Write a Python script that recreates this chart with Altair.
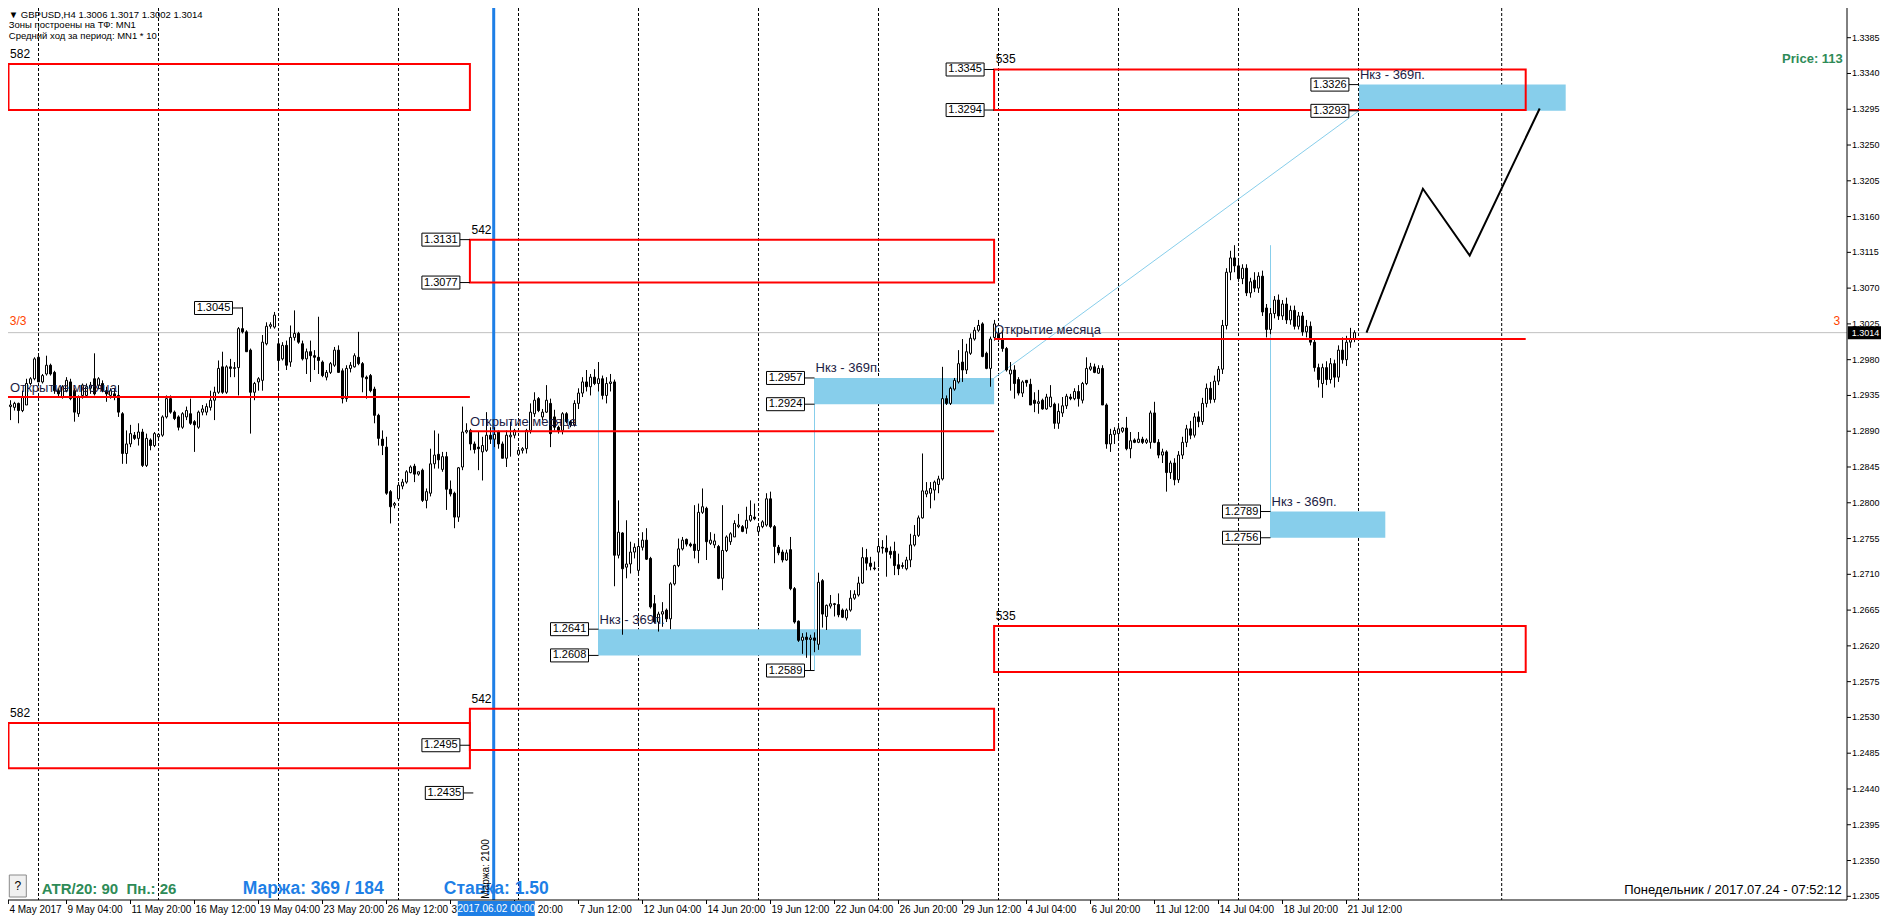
import altair as alt
import pandas as pd

# ---------------------------------------------------------------- data
# GBPUSD H4 candles, bar 0 .. bar 338
OPEN = [
1.2898,1.2900,1.2921,1.2920,1.2925,1.2916,1.2923,1.2950,1.2956,1.2983,
1.2952,1.2962,1.2973,1.2964,1.2941,1.2933,1.2941,1.2952,1.2941,1.2912,
1.2935,1.2935,1.2944,1.2956,1.2948,1.2950,1.2941,1.2935,1.2937,1.2935,
1.2912,1.2862,1.2874,1.2885,1.2881,1.2889,1.2847,1.2879,1.2872,1.2883,
1.2885,1.2908,1.2931,1.2914,1.2908,1.2895,1.2908,1.2912,1.2902,1.2895,
1.2914,1.2914,1.2920,1.2929,1.2939,1.2971,1.2939,1.2971,1.2969,1.2970,
1.3019,1.3015,1.2992,1.2939,1.2952,1.2954,1.3000,1.3022,1.3021,1.3000,
1.2981,1.2998,1.2977,1.3008,1.3013,1.3000,1.2981,1.2990,1.2985,1.2983,
1.2977,1.2958,1.2964,1.2973,1.2992,1.2966,1.2931,1.2969,1.2971,1.2983,
1.2975,1.2958,1.2960,1.2943,1.2910,1.2880,1.2870,1.2814,1.2797,1.2805,
1.2821,1.2826,1.2838,1.2846,1.2836,1.2841,1.2803,1.2812,1.2849,1.2861,
1.2842,1.2858,1.2817,1.2812,1.2782,1.2845,1.2889,1.2891,1.2874,1.2870,
1.2864,1.2866,1.2885,1.2880,1.2889,1.2874,1.2856,1.2883,1.2885,1.2861,
1.2866,1.2868,1.2891,1.2912,1.2931,1.2908,1.2914,1.2925,1.2908,1.2895,
1.2891,1.2912,1.2902,1.2898,1.2925,1.2938,1.2952,1.2946,1.2958,1.2950,
1.2956,1.2935,1.2950,1.2952,1.2734,1.2762,1.2719,1.2723,1.2738,1.2715,
1.2744,1.2753,1.2730,1.2673,1.2650,1.2660,1.2665,1.2654,1.2698,1.2721,
1.2742,1.2754,1.2748,1.2748,1.2740,1.2788,1.2793,1.2749,1.2747,1.2745,
1.2705,1.2740,1.2751,1.2757,1.2770,1.2770,1.2768,1.2778,1.2782,1.2764,
1.2770,1.2772,1.2805,1.2770,1.2744,1.2738,1.2728,1.2741,1.2692,1.2651,
1.2627,1.2631,1.2628,1.2630,1.2622,1.2702,1.2657,1.2670,1.2673,1.2672,
1.2665,1.2655,1.2665,1.2680,1.2684,1.2699,1.2731,1.2724,1.2718,1.2738,
1.2744,1.2743,1.2739,1.2739,1.2722,1.2721,1.2717,1.2728,1.2747,1.2759,
1.2781,1.2811,1.2812,1.2816,1.2823,1.2830,1.2931,1.2925,1.2943,1.2952,
1.2977,1.2967,1.2988,1.3006,1.3017,1.3025,1.2988,1.2969,1.3008,1.3012,
1.3006,1.2994,1.2962,1.2967,1.2955,1.2938,1.2954,1.2949,1.2929,1.2925,
1.2929,1.2918,1.2921,1.2924,1.2900,1.2913,1.2922,1.2933,1.2931,1.2940,
1.2929,1.2950,1.2968,1.2971,1.2963,1.2969,1.2923,1.2874,1.2886,1.2887,
1.2890,1.2894,1.2868,1.2879,1.2876,1.2880,1.2876,1.2876,1.2913,1.2876,
1.2860,1.2864,1.2838,1.2850,1.2829,1.2860,1.2876,1.2893,1.2885,1.2908,
1.2902,1.2925,1.2944,1.2930,1.2953,1.2968,1.3023,1.3090,1.3108,1.3098,
1.3082,1.3095,1.3064,1.3080,1.3070,1.3085,1.3045,1.3018,1.3038,1.3055,
1.3035,1.3050,1.3030,1.3042,1.3022,1.3035,1.3015,1.3022,1.3002,1.2970,
1.2950,1.2970,1.2955,1.2975,1.2958,1.2992,1.2980,1.3002,1.3006]
HIGH = [
1.2900,1.2923,1.2929,1.2927,1.2926,1.2941,1.2956,1.2958,1.2983,1.2988,
1.2962,1.2985,1.2975,1.2966,1.2944,1.2948,1.2958,1.2956,1.2944,1.2935,
1.2950,1.2950,1.2952,1.2988,1.2958,1.2954,1.2946,1.2944,1.2944,1.2948,
1.2914,1.2891,1.2898,1.2889,1.2900,1.2893,1.2887,1.2881,1.2889,1.2887,
1.2910,1.2935,1.2935,1.2916,1.2910,1.2914,1.2921,1.2931,1.2904,1.2916,
1.2923,1.2925,1.2941,1.2946,1.2979,1.2990,1.2973,1.2981,1.2977,1.3021,
1.3046,1.3017,1.2994,1.2952,1.2958,1.3011,1.3027,1.3027,1.3040,1.3004,
1.3002,1.3004,1.3023,1.3042,1.3015,1.3004,1.2994,1.3004,1.2992,1.3034,
1.2979,1.2967,1.2977,1.2996,1.2998,1.2969,1.2973,1.2977,1.2988,1.3015,
1.2977,1.2960,1.2962,1.2946,1.2912,1.2891,1.2883,1.2816,1.2801,1.2826,
1.2830,1.2841,1.2847,1.2849,1.2839,1.2843,1.2818,1.2868,1.2891,1.2887,
1.2864,1.2864,1.2828,1.2814,1.2845,1.2921,1.2900,1.2893,1.2877,1.2889,
1.2883,1.2914,1.2895,1.2895,1.2891,1.2877,1.2891,1.2902,1.2893,1.2870,
1.2870,1.2893,1.2925,1.2939,1.2933,1.2918,1.2948,1.2931,1.2917,1.2897,
1.2914,1.2914,1.2904,1.2929,1.2944,1.2958,1.2967,1.2962,1.2968,1.2977,
1.2960,1.2958,1.2962,1.2955,1.2803,1.2763,1.2778,1.2751,1.2749,1.2753,
1.2763,1.2768,1.2732,1.2684,1.2663,1.2675,1.2667,1.2700,1.2722,1.2755,
1.2757,1.2755,1.2750,1.2797,1.2799,1.2818,1.2795,1.2763,1.2761,1.2747,
1.2797,1.2759,1.2763,1.2778,1.2786,1.2772,1.2795,1.2803,1.2799,1.2772,
1.2778,1.2812,1.2814,1.2772,1.2747,1.2741,1.2741,1.2757,1.2694,1.2652,
1.2636,1.2637,1.2634,1.2637,1.2712,1.2704,1.2672,1.2684,1.2674,1.2686,
1.2667,1.2667,1.2690,1.2690,1.2707,1.2744,1.2742,1.2732,1.2726,1.2755,
1.2753,1.2759,1.2745,1.2751,1.2736,1.2725,1.2732,1.2761,1.2772,1.2784,
1.2862,1.2826,1.2826,1.2828,1.2834,1.2971,1.2935,1.2946,1.2957,1.2992,
1.3006,1.3000,1.3013,1.3021,1.3030,1.3027,1.2990,1.3009,1.3030,1.3019,
1.3017,1.2996,1.2977,1.2973,1.2958,1.2954,1.2954,1.2956,1.2939,1.2942,
1.2931,1.2937,1.2948,1.2926,1.2925,1.2933,1.2937,1.2937,1.2944,1.2948,
1.2952,1.2983,1.2976,1.2975,1.2973,1.2973,1.2925,1.2893,1.2895,1.2900,
1.2895,1.2908,1.2889,1.2881,1.2889,1.2883,1.2881,1.2916,1.2927,1.2880,
1.2868,1.2866,1.2853,1.2856,1.2865,1.2883,1.2898,1.2903,1.2913,1.2915,
1.2932,1.2950,1.2952,1.2960,1.2972,1.3030,1.3095,1.3117,1.3124,1.3105,
1.3100,1.3100,1.3083,1.3090,1.3090,1.3092,1.3050,1.3045,1.3060,1.3062,
1.3055,1.3058,1.3048,1.3048,1.3040,1.3040,1.3030,1.3028,1.3006,1.2975,
1.2975,1.2978,1.2982,1.2980,1.2998,1.3008,1.3010,1.3020,1.3017]
LOW = [
1.2879,1.2898,1.2904,1.2916,1.2900,1.2914,1.2923,1.2948,1.2954,1.2952,
1.2950,1.2960,1.2960,1.2937,1.2933,1.2931,1.2939,1.2929,1.2902,1.2908,
1.2931,1.2933,1.2937,1.2935,1.2944,1.2939,1.2927,1.2931,1.2929,1.2908,
1.2849,1.2849,1.2870,1.2879,1.2872,1.2845,1.2845,1.2866,1.2870,1.2879,
1.2883,1.2906,1.2912,1.2904,1.2891,1.2893,1.2904,1.2898,1.2864,1.2893,
1.2910,1.2910,1.2916,1.2904,1.2937,1.2937,1.2937,1.2958,1.2958,1.2935,
1.3013,1.2990,1.2887,1.2929,1.2941,1.2941,1.2998,1.3019,1.3019,1.2969,
1.2979,1.2967,1.2971,1.3004,1.3000,1.2979,1.2962,1.2952,1.2967,1.2962,
1.2958,1.2954,1.2962,1.2971,1.2964,1.2925,1.2927,1.2964,1.2970,1.2973,
1.2939,1.2931,1.2939,1.2900,1.2872,1.2860,1.2810,1.2774,1.2793,1.2803,
1.2817,1.2824,1.2837,1.2826,1.2834,1.2801,1.2793,1.2808,1.2843,1.2843,
1.2839,1.2791,1.2808,1.2768,1.2776,1.2841,1.2887,1.2866,1.2862,1.2841,
1.2828,1.2864,1.2874,1.2870,1.2868,1.2856,1.2845,1.2858,1.2881,1.2860,
1.2862,1.2862,1.2887,1.2908,1.2914,1.2904,1.2913,1.2870,1.2891,1.2887,
1.2886,1.2900,1.2895,1.2896,1.2918,1.2933,1.2940,1.2935,1.2948,1.2940,
1.2930,1.2925,1.2940,1.2695,1.2730,1.2634,1.2705,1.2711,1.2730,1.2711,
1.2740,1.2728,1.2667,1.2648,1.2638,1.2644,1.2650,1.2641,1.2696,1.2719,
1.2740,1.2745,1.2744,1.2730,1.2724,1.2786,1.2728,1.2747,1.2743,1.2704,
1.2690,1.2738,1.2747,1.2757,1.2768,1.2763,1.2761,1.2776,1.2778,1.2760,
1.2768,1.2770,1.2768,1.2724,1.2734,1.2725,1.2727,1.2690,1.2648,1.2625,
1.2610,1.2605,1.2589,1.2612,1.2615,1.2643,1.2640,1.2667,1.2657,1.2656,
1.2655,1.2652,1.2663,1.2678,1.2682,1.2698,1.2715,1.2715,1.2715,1.2719,
1.2736,1.2707,1.2730,1.2709,1.2709,1.2717,1.2715,1.2719,1.2745,1.2757,
1.2780,1.2807,1.2793,1.2803,1.2812,1.2828,1.2923,1.2923,1.2941,1.2950,
1.2952,1.2962,1.2986,1.3004,1.3015,1.2983,1.2968,1.2946,1.3004,1.3002,
1.2990,1.2965,1.2941,1.2931,1.2935,1.2933,1.2946,1.2923,1.2914,1.2912,
1.2917,1.2917,1.2920,1.2893,1.2893,1.2908,1.2918,1.2929,1.2929,1.2921,
1.2925,1.2948,1.2966,1.2963,1.2962,1.2923,1.2868,1.2864,1.2874,1.2881,
1.2888,1.2866,1.2856,1.2875,1.2875,1.2874,1.2874,1.2868,1.2875,1.2856,
1.2850,1.2814,1.2830,1.2822,1.2825,1.2855,1.2870,1.2880,1.2882,1.2895,
1.2898,1.2920,1.2925,1.2926,1.2948,1.2962,1.3018,1.3080,1.3090,1.3078,
1.3075,1.3060,1.3058,1.3065,1.3064,1.3035,1.3008,1.3012,1.3032,1.3030,
1.3030,1.3025,1.3024,1.3018,1.3018,1.3010,1.3008,1.2998,1.2965,1.2945,
1.2932,1.2948,1.2950,1.2945,1.2952,1.2975,1.2972,1.2995,1.3002]
CLOSE = [
1.2889,1.2921,1.2923,1.2925,1.2916,1.2933,1.2950,1.2956,1.2981,1.2952,
1.2960,1.2973,1.2962,1.2941,1.2937,1.2946,1.2954,1.2931,1.2914,1.2933,
1.2948,1.2946,1.2948,1.2937,1.2956,1.2941,1.2937,1.2941,1.2933,1.2914,
1.2862,1.2874,1.2887,1.2881,1.2889,1.2847,1.2881,1.2872,1.2887,1.2886,
1.2908,1.2931,1.2914,1.2906,1.2895,1.2912,1.2916,1.2900,1.2898,1.2914,
1.2918,1.2921,1.2929,1.2939,1.2969,1.2939,1.2971,1.2969,1.2970,1.3019,
1.3015,1.2990,1.2939,1.2950,1.2956,1.3002,1.3022,1.3024,1.3036,1.2979,
1.2998,1.2973,1.3008,1.3013,1.3002,1.2981,1.2990,1.2985,1.2983,1.2979,
1.2960,1.2964,1.2975,1.2992,1.2964,1.2931,1.2969,1.2973,1.2985,1.2975,
1.2958,1.2956,1.2941,1.2910,1.2881,1.2872,1.2812,1.2795,1.2799,1.2822,
1.2826,1.2839,1.2845,1.2836,1.2839,1.2803,1.2814,1.2849,1.2860,1.2854,
1.2858,1.2817,1.2811,1.2782,1.2844,1.2889,1.2891,1.2874,1.2867,1.2868,
1.2872,1.2885,1.2880,1.2886,1.2874,1.2856,1.2885,1.2885,1.2891,1.2866,
1.2868,1.2891,1.2914,1.2929,1.2916,1.2914,1.2929,1.2887,1.2895,1.2891,
1.2912,1.2902,1.2898,1.2925,1.2938,1.2952,1.2946,1.2958,1.2950,1.2956,
1.2935,1.2950,1.2952,1.2734,1.2763,1.2717,1.2723,1.2738,1.2744,1.2745,
1.2753,1.2729,1.2669,1.2650,1.2660,1.2663,1.2654,1.2698,1.2721,1.2742,
1.2753,1.2748,1.2746,1.2740,1.2788,1.2795,1.2751,1.2753,1.2752,1.2705,
1.2740,1.2757,1.2761,1.2774,1.2772,1.2764,1.2778,1.2784,1.2780,1.2770,
1.2776,1.2805,1.2770,1.2745,1.2737,1.2728,1.2737,1.2692,1.2650,1.2627,
1.2631,1.2628,1.2630,1.2627,1.2700,1.2660,1.2671,1.2673,1.2672,1.2659,
1.2656,1.2665,1.2680,1.2685,1.2699,1.2731,1.2724,1.2720,1.2717,1.2745,
1.2743,1.2738,1.2735,1.2721,1.2717,1.2720,1.2728,1.2747,1.2759,1.2781,
1.2815,1.2815,1.2818,1.2826,1.2830,1.2931,1.2925,1.2944,1.2954,1.2975,
1.2967,1.2990,1.3007,1.3017,1.3023,1.2984,1.2969,1.3006,1.3025,1.3006,
1.2994,1.2967,1.2967,1.2950,1.2938,1.2952,1.2951,1.2923,1.2925,1.2927,
1.2918,1.2933,1.2933,1.2900,1.2915,1.2922,1.2934,1.2931,1.2940,1.2931,
1.2950,1.2969,1.2971,1.2964,1.2969,1.2923,1.2874,1.2886,1.2891,1.2893,
1.2894,1.2868,1.2878,1.2876,1.2880,1.2876,1.2879,1.2913,1.2876,1.2860,
1.2864,1.2838,1.2850,1.2829,1.2860,1.2876,1.2893,1.2885,1.2908,1.2902,
1.2925,1.2944,1.2930,1.2953,1.2968,1.3023,1.3090,1.3108,1.3098,1.3082,
1.3095,1.3064,1.3078,1.3070,1.3085,1.3040,1.3018,1.3038,1.3055,1.3035,
1.3050,1.3030,1.3042,1.3022,1.3035,1.3015,1.3022,1.3002,1.2970,1.2955,
1.2970,1.2955,1.2975,1.2958,1.2992,1.2980,1.3002,1.3006,1.3014]

WEEK_BARS = [9, 39, 69, 99, 129, 159, 189, 219, 249, 279, 309, 339, 374.8]
TIME_TICKS = [0, 16, 32, 48, 64, 80, 96, 112, 128, 144, 160, 176, 192, 208,
              224, 240, 256, 272, 288, 304, 320, 336]
TIME_LABELS = ["4 May 2017", "9 May 04:00", "11 May 20:00", "16 May 12:00",
               "19 May 04:00", "23 May 20:00", "26 May 12:00", "31 May 04:00",
               "2 Jun 20:00", "7 Jun 12:00", "12 Jun 04:00", "14 Jun 20:00",
               "19 Jun 12:00", "22 Jun 04:00", "26 Jun 20:00", "29 Jun 12:00",
               "4 Jul 04:00", "6 Jul 20:00", "11 Jul 12:00", "14 Jul 04:00",
               "18 Jul 20:00", "21 Jul 12:00"]
PRICE_TICKS = [1.2305, 1.2350, 1.2395, 1.2440, 1.2485, 1.2530, 1.2575, 1.2620,
               1.2665, 1.2710, 1.2755, 1.2800, 1.2845, 1.2890, 1.2935, 1.2980,
               1.3025, 1.3070, 1.3115, 1.3160, 1.3205, 1.3250, 1.3295, 1.3340,
               1.3385]
CURRENT_PRICE = 1.3014

# monthly open lines
MONTH_OPEN_PRICE = [1.2933, 1.2890, 1.3006]
MONTH_OPEN_FROM = [-5.0, 116.85, 247.9]
MONTH_OPEN_TO = [116.85, 247.9, 380.8]
MONTH_TEXT_BAR = [1.9, 116.85, 247.9]

# red zones (monthly ranges)
ZONE_NAMES = ["582", "542", "535", "582", "542", "535"]
ZONE_FROM = [1.5, 116.85, 247.9, 1.5, 116.85, 247.9]
ZONE_TO = [116.85, 247.9, 380.8, 116.85, 247.9, 380.8]
ZONE_HI = [1.3352, 1.3131, 1.3345, 1.2523, 1.2541, 1.2645]
ZONE_LO = [1.3294, 1.3077, 1.3294, 1.2466, 1.2489, 1.2587]

# blue "Нкз - 369п." zones
NKZ_FROM = [339.1, 203.0, 149.0, 317.0]
NKZ_TO = [390.8, 247.9, 214.6, 345.7]
NKZ_HI = [1.3326, 1.2957, 1.2641, 1.2789]
NKZ_LO = [1.3293, 1.2924, 1.2608, 1.2756]
NKZ_LINE_BAR = [203.0, 149.0, 317.0]
NKZ_LINE_FROM = [1.2589, 1.2977, 1.3124]
NKZ_LINE_TO = [1.2957, 1.2608, 1.2756]
DIAG_BARS = [247.9, 339.1]
DIAG_PRICES = [1.2957, 1.3293]

# price labels
PLABEL_VALUES = [1.3045, 1.3131, 1.3077, 1.2495, 1.2435, 1.3345, 1.3294, 1.2957,
                 1.2924, 1.2641, 1.2608, 1.2589, 1.3326, 1.3293, 1.2789, 1.2756]
PLABEL_ANCHOR = [60, 116.85, 116.85, 116.85, 117.7, 247.9, 247.9, 203.0,
                 203.0, 149.0, 149.0, 203.0, 339.1, 339.1, 317.0, 317.0]

# projected path
FUT_BARS = [341.0, 355.1, 366.8, 384.3]
FUT_PRICES = [1.3014, 1.3195, 1.3111, 1.3296]

VLINE_BAR = 122.8  # 2017.06.02 00:00

# ---------------------------------------------------------------- layout helpers
PX_BAR = 0.25            # 4 px per H4 bar
PX_PRICE = 1 / 7950.0    # price per pixel
TOP_REF = 1.343242       # price at the top edge of the terminal window


def bar_at(px):
    return (px - 2.7) * PX_BAR


def price_at(py):
    return TOP_REF - py * PX_PRICE


W, H = 1839, 892
K0 = bar_at(8.2)
K1 = K0 + W * PX_BAR
P_TOP = price_at(8)
P_BOT = price_at(900)

FONT = "Liberation Sans"
RED = "#FF0000"
SKY = "#87CEEB"
NAVY = "#1c1c44"
GREEN = "#2E8B57"
BLUE = "#1E7FE6"

xs = alt.Scale(domain=[K0, K1], nice=False, zero=False)
ys = alt.Scale(domain=[P_BOT, P_TOP], nice=False, zero=False)


def X(f):
    return alt.X(f, type="quantitative", scale=xs, axis=None)


def Y(f):
    return alt.Y(f, type="quantitative", scale=ys, axis=None)


def text_layer(rows, align="left", size=12, weight="normal", color="black",
               angle=0, font=FONT):
    df = pd.DataFrame(rows, columns=["text", "bar", "price"])
    return alt.Chart(df).mark_text(align=align, baseline="middle", fontSize=size,
                                   fontWeight=weight, color=color, angle=angle,
                                   font=font).encode(
        x=X("bar"), y=Y("price"), text="text:N")


# ---------------------------------------------------------------- tables
n = min(len(OPEN), len(HIGH), len(LOW), len(CLOSE))
candles = pd.DataFrame({"bar": list(range(n)), "open": OPEN[:n], "high": HIGH[:n],
                        "low": LOW[:n], "close": CLOSE[:n]})
candles["x1"] = candles["bar"] - PX_BAR
candles["x2"] = candles["bar"] + PX_BAR

layers = []

# weekly separators
layers.append(alt.Chart(pd.DataFrame({"bar": WEEK_BARS})).mark_rule(
    color="black", strokeWidth=1, strokeDash=[3, 2]).encode(x=X("bar")))
# current price line
layers.append(alt.Chart(pd.DataFrame({"price": [CURRENT_PRICE]})).mark_rule(
    color="#C0C0C0", strokeWidth=1).encode(y=Y("price")))
# blue zones
nkz = pd.DataFrame({"x1": NKZ_FROM, "x2": NKZ_TO, "hi": NKZ_HI, "lo": NKZ_LO})
layers.append(alt.Chart(nkz).mark_rect(color=SKY).encode(
    x=X("x1"), x2="x2", y=Y("hi"), y2="lo"))
# nkz vertical lines and diagonal
nkl = pd.DataFrame({"bar": NKZ_LINE_BAR, "p1": NKZ_LINE_FROM, "p2": NKZ_LINE_TO})
layers.append(alt.Chart(nkl).mark_rule(color=SKY, strokeWidth=1).encode(
    x=X("bar"), y=Y("p1"), y2="p2"))
layers.append(alt.Chart(pd.DataFrame({"bar": DIAG_BARS, "price": DIAG_PRICES})).mark_line(
    color=SKY, strokeWidth=1).encode(x=X("bar"), y=Y("price")))
# blue vertical line
layers.append(alt.Chart(pd.DataFrame({"bar": [VLINE_BAR]})).mark_rule(
    color=BLUE, strokeWidth=3).encode(x=X("bar")))
# candles
layers.append(alt.Chart(candles).mark_rule(color="black", strokeWidth=1).encode(
    x=X("bar"), y=Y("low"), y2="high"))
layers.append(alt.Chart(candles).mark_rect(stroke="black", strokeWidth=1).encode(
    x=X("x1"), x2="x2", y=Y("open"), y2="close",
    fill=alt.condition("datum.close >= datum.open", alt.value("white"), alt.value("black"))))
# red zones
zones = pd.DataFrame({"name": ZONE_NAMES, "x1": ZONE_FROM, "x2": ZONE_TO,
                      "hi": ZONE_HI, "lo": ZONE_LO})
layers.append(alt.Chart(zones).mark_rect(fillOpacity=0, stroke=RED, strokeWidth=2).encode(
    x=X("x1"), x2="x2", y=Y("hi"), y2="lo"))
# month open lines
mo = pd.DataFrame({"x1": MONTH_OPEN_FROM, "x2": MONTH_OPEN_TO, "price": MONTH_OPEN_PRICE})
layers.append(alt.Chart(mo).mark_rule(color=RED, strokeWidth=2).encode(
    x=X("x1"), x2="x2", y=Y("price")))
# projected zigzag
layers.append(alt.Chart(pd.DataFrame({"bar": FUT_BARS, "price": FUT_PRICES})).mark_line(
    color="black", strokeWidth=2).encode(x=X("bar"), y=Y("price")))

# price label boxes
pl = pd.DataFrame({"value": PLABEL_VALUES, "anchor": PLABEL_ANCHOR})
pl["x2"] = pl["anchor"] - 10 * PX_BAR
pl["x1"] = pl["x2"] - 38 * PX_BAR
pl["xc"] = (pl["x1"] + pl["x2"]) / 2
pl["y1"] = pl["value"] - 6.5 * PX_PRICE
pl["y2"] = pl["value"] + 6.5 * PX_PRICE
pl["text"] = [f"{v:.4f}" for v in PLABEL_VALUES]
layers.append(alt.Chart(pl).mark_rule(color="black", strokeWidth=1).encode(
    x=X("x2"), x2="anchor", y=Y("value")))
layers.append(alt.Chart(pl).mark_rect(fill="white", stroke="black", strokeWidth=1).encode(
    x=X("x1"), x2="x2", y=Y("y1"), y2="y2"))
layers.append(alt.Chart(pl).mark_text(font=FONT, fontSize=11, color="black",
                                      align="center", baseline="middle").encode(
    x=X("xc"), y=Y("value"), text="text:N"))

# zone numbers
layers.append(text_layer([(z, x + 0.4, hi + 10 * PX_PRICE)
                          for z, x, hi in zip(ZONE_NAMES, ZONE_FROM, ZONE_HI)], size=12))
# month open texts
layers.append(text_layer([("Открытие месяца", b, p + 9 * PX_PRICE)
                          for b, p in zip(MONTH_TEXT_BAR, MONTH_OPEN_PRICE)],
                         size=13, color=NAVY))
# nkz texts
layers.append(text_layer([("Нкз - 369п.", b + 1 * PX_BAR, hi + 9.5 * PX_PRICE)
                          for b, hi in zip(NKZ_FROM, NKZ_HI)], size=13, color=NAVY))
# info lines
layers.append(text_layer([
    ("▼  GBPUSD,H4  1.3006 1.3017 1.3002 1.3014", bar_at(9), price_at(14.5)),
    ("Зоны построены на ТФ: MN1", bar_at(9), price_at(25)),
    ("Средний ход за период: MN1 * 10", bar_at(9), price_at(36)),
], size=9.5))
layers.append(text_layer([("3/3", bar_at(10), price_at(320.5))], size=12, color="#FF4500"))
layers.append(text_layer([("3", bar_at(1837), price_at(320.5))], size=12,
                         color="#FF4500", align="center"))
layers.append(text_layer([("Price: 113", bar_at(1843), price_at(59))], size=13,
                         weight="bold", color=GREEN, align="right"))

# ---------------------------------------------------------------- axes drawn as marks
# right price scale
layers.append(alt.Chart(pd.DataFrame({"bar": [K1]})).mark_rule(
    color="black", strokeWidth=1).encode(x=X("bar")))
pt = pd.DataFrame({"price": PRICE_TICKS})
pt["x1"] = K1
pt["x2"] = K1 + 4 * PX_BAR
pt["xl"] = K1 + 5 * PX_BAR
pt["text"] = [f"{p:.4f}" for p in PRICE_TICKS]
layers.append(alt.Chart(pt).mark_rule(color="black", strokeWidth=1).encode(
    x=X("x1"), x2="x2", y=Y("price")))
layers.append(alt.Chart(pt).mark_text(font=FONT, fontSize=9, color="black",
                                      align="left", baseline="middle").encode(
    x=X("xl"), y=Y("price"), text="text:N"))

# bottom time scale (the date flag of the blue line hides part of two labels)
DATE_BOX_L, DATE_BOX_R = bar_at(458), bar_at(535)
tick_rows = []
for t, lab in zip(TIME_TICKS, TIME_LABELS):
    tb = max(t, K0 + 0.1)
    xl = tb + 1 * PX_BAR
    if xl < DATE_BOX_L < xl + 55 * PX_BAR:
        lab = lab[:1]                       # only the first glyph stays visible
    elif DATE_BOX_L <= xl < DATE_BOX_R:
        lab = lab.split()[-1]               # only the hour shows after the flag
        xl = DATE_BOX_R + 3 * PX_BAR
    tick_rows.append((tb, xl, lab))
tt = pd.DataFrame(tick_rows, columns=["bar", "xl", "text"])
tt["y1"] = P_BOT
tt["y2"] = P_BOT - 4 * PX_PRICE
tt["yl"] = P_BOT - 9.5 * PX_PRICE
layers.append(alt.Chart(pd.DataFrame({"price": [P_BOT]})).mark_rule(
    color="black", strokeWidth=1).encode(y=Y("price")))
layers.append(alt.Chart(tt).mark_rule(color="black", strokeWidth=1).encode(
    x=X("bar"), y=Y("y1"), y2="y2"))
layers.append(alt.Chart(tt).mark_text(font=FONT, fontSize=10, color="black",
                                      align="left", baseline="middle").encode(
    x=X("xl"), y=Y("yl"), text="text:N"))

# ---------------------------------------------------------------- bottom info
btn = pd.DataFrame({"x1": [bar_at(9.5)], "x2": [bar_at(26.5)],
                    "y1": [price_at(875)], "y2": [price_at(897)]})
layers.append(alt.Chart(btn).mark_rect(fill="#F0F0F0", stroke="#8A8A8A", strokeWidth=1).encode(
    x=X("x1"), x2="x2", y=Y("y1"), y2="y2"))
layers.append(text_layer([("?", bar_at(18), price_at(886))], size=12, align="center"))
layers.append(text_layer([("ATR/20: 90\u00a0 Пн.: 26", bar_at(42), price_at(889))],
                         size=15, weight="bold", color=GREEN))
layers.append(text_layer([("Маржа: 369 / 184", bar_at(243), price_at(889)),
                          ("Ставка: 1.50", bar_at(444), price_at(889))],
                         size=17.5, weight="bold", color=BLUE))
layers.append(text_layer([("Маржа: 2100", bar_at(486), price_at(869))], size=10,
                         angle=270, align="center"))
layers.append(text_layer([("Понедельник / 2017.07.24 - 07:52:12", bar_at(1842), price_at(890))],
                         size=13, align="right"))
# date flag under the blue line
db = pd.DataFrame({"x1": [DATE_BOX_L], "x2": [DATE_BOX_R],
                   "y1": [price_at(901)], "y2": [price_at(916)]})
layers.append(alt.Chart(db).mark_rect(color=BLUE).encode(
    x=X("x1"), x2="x2", y=Y("y1"), y2="y2"))
layers.append(text_layer([("2017.06.02 00:00", bar_at(496.5), price_at(908.5))],
                         size=10, color="white", align="center"))
# current price box on the axis
cp = pd.DataFrame({"x1": [bar_at(1848)], "x2": [bar_at(1886)],
                   "y1": [CURRENT_PRICE - 6.5 * PX_PRICE], "y2": [CURRENT_PRICE + 6.5 * PX_PRICE]})
layers.append(alt.Chart(cp).mark_rect(color="black").encode(
    x=X("x1"), x2="x2", y=Y("y1"), y2="y2"))
layers.append(text_layer([("1.3014", bar_at(1852), CURRENT_PRICE)], size=9,
                         color="white", align="left"))

chart = alt.layer(*layers).properties(
    width=W, height=H,
    autosize=alt.AutoSizeParams(type="none"),
    padding={"left": 0, "top": 0, "right": 34, "bottom": 16},
    background="white",
).configure_view(strokeWidth=0)

chart.save("out.html", embed_options={"renderer": "svg", "actions": False})
